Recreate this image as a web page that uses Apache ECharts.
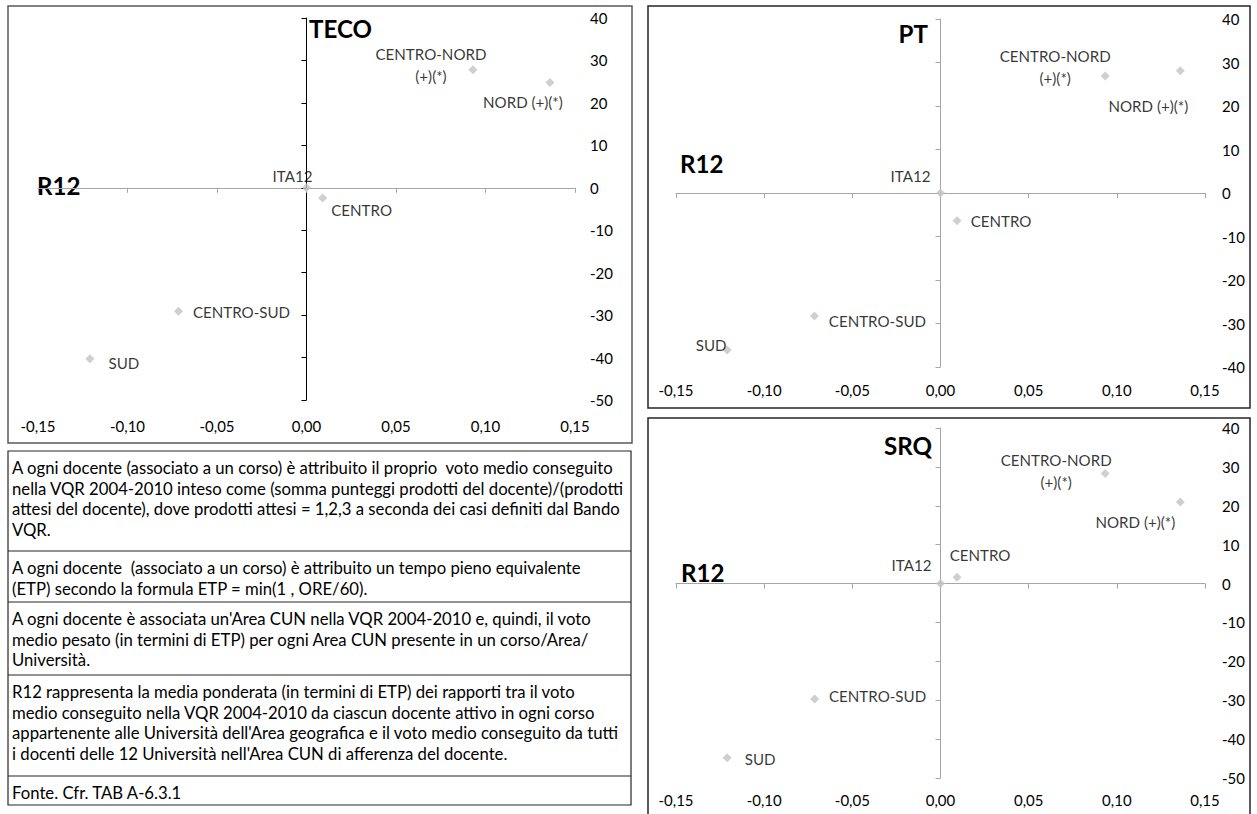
<!DOCTYPE html>
<html><head><meta charset="utf-8">
<script src="https://cdn.jsdelivr.net/npm/echarts@6/dist/echarts.min.js"></script>
<style>html,body{margin:0;padding:0;background:#fff;} #c{width:1257px;height:814px;}</style>
</head><body><div id="c"></div>
<script>
// ---------------- data ----------------
const areas = ['ITA12', 'CENTRO', 'CENTRO-NORD', 'NORD', 'CENTRO-SUD', 'SUD'];
const pointLabels = ['ITA12', 'CENTRO', 'CENTRO-NORD\n(+)(*)', 'NORD (+)(*)', 'CENTRO-SUD', 'SUD'];
const r12Teco = [0, 0.009, 0.093, 0.136, -0.0715, -0.121];
const tecoValues = [0, -2.4, 27.8, 24.8, -29.1, -40.3];
const r12Pt = [0, 0.0094, 0.0934, 0.136, -0.0715, -0.121];
const ptValues = [0, -6.4, 26.9, 28.1, -28.3, -36.1];
const r12Srq = [0, 0.0094, 0.0934, 0.136, -0.0714, -0.121];
const srqValues = [0, 1.6, 28.3, 21.0, -29.7, -44.8];
const xScale = { min: -0.15, max: 0.15, interval: 0.05 };
const yScaleTeco = { min: -50, max: 40, interval: 10 };
const yScalePt = { min: -40, max: 40, interval: 10 };
const yScaleSrq = { min: -50, max: 40, interval: 10 };
const panelTitles = ['TECO', 'PT', 'SRQ'];
const xTitle = 'R12';
const noteRows = [
  ['A ogni docente (associato a un corso) è attribuito il proprio  voto medio conseguito',
   'nella VQR 2004-2010 inteso come (somma punteggi prodotti del docente)/(prodotti',
   'attesi del docente), dove prodotti attesi = 1,2,3 a seconda dei casi definiti dal Bando',
   'VQR.'],
  ['A ogni docente  (associato a un corso) è attribuito un tempo pieno equivalente',
   '(ETP) secondo la formula ETP = min(1 , ORE/60).'],
  ['A ogni docente è associata un\'Area CUN nella VQR 2004-2010 e, quindi, il voto',
   'medio pesato (in termini di ETP) per ogni Area CUN presente in un corso/Area/',
   'Università.'],
  ['R12 rappresenta la media ponderata (in termini di ETP) dei rapporti tra il voto',
   'medio conseguito nella VQR 2004-2010 da ciascun docente attivo in ogni corso',
   'appartenente alle Università dell\'Area geografica e il voto medio conseguito da tutti',
   'i docenti delle 12 Università nell\'Area CUN di afferenza del docente.'],
  ['Fonte. Cfr. TAB A-6.3.1']
];

// ---------------- fonts ----------------
const FAM = 'Lato';
const ctx = document.createElement('canvas').getContext('2d');
function tw(text, size, weight) { ctx.font = (weight || 'normal') + ' ' + size + 'px ' + FAM; return ctx.measureText(text).width; }
function fit(text, target, weight) { return +(14 * target / tw(text, 14, weight)).toFixed(2); }
const bodySize = fit(noteRows[0][1], 612);
const tickSize = fit('-0,15', 35);
const ptLabelSize = fit('CENTRO-NORD', 111);
const titleSize = fit('TECO', 63, 'bold');

// ---------------- layout / style ----------------
const panels = [
  { x: r12Teco, y: tecoValues, yScale: yScaleTeco,
    grid: { left: 38, top: 18, width: 537, height: 382 },
    box: [8, 6, 624, 437], boxColor: '#595959', yLineColor: '#000000',
    xMargin: 18, yMargin: 15,
    title: { x: 309, y: 28, align: 'left' }, r12: { x: 37, y: 185 },
    offsets: [[-14, -12], [39, 12], [-42, -5], [-27, 19], [63, 1], [34, 4]] },
  { x: r12Pt, y: ptValues, yScale: yScalePt,
    grid: { left: 676, top: 19, width: 529, height: 348 },
    box: [648, 6, 602, 402], boxColor: '#262626', yLineColor: '#a6a6a6',
    xMargin: 15, yMargin: 17,
    title: { x: 928, y: 33, align: 'right' }, r12: { x: 680, y: 163 },
    offsets: [[-30, -17], [44, 0], [-50, -9], [-32, 35], [63, 5], [-16, -5]] },
  { x: r12Srq, y: srqValues, yScale: yScaleSrq,
    grid: { left: 676, top: 428, width: 529, height: 350 },
    box: [648, 418, 602, 410], boxColor: '#262626', yLineColor: '#a6a6a6',
    xMargin: 14, yMargin: 17,
    title: { x: 932, y: 445, align: 'right' }, r12: { x: 681, y: 572 },
    offsets: [[-29, -19], [23, -22], [-49, -3], [-45, 20], [63, -3], [33, 1]] }
];
const noteBox = { x: 8, top: 451, right: 631, bottom: 805, seps: [551, 602, 675, 776], pad: 4, first: 17, lh: 20.7 };

const fmtX = v => (Math.abs(v) < 1e-9 ? 0 : v).toFixed(2).replace('.', ',');

const grids = [], xAxes = [], yAxes = [], series = [], graphic = [];
panels.forEach((p, i) => {
  grids.push(Object.assign({ containLabel: false }, p.grid));
  // x label axis (bottom)
  xAxes.push(Object.assign({ type: 'value', gridIndex: i, position: 'bottom',
    axisLine: { show: false, onZero: false }, axisTick: { show: false }, splitLine: { show: false },
    axisLabel: { formatter: fmtX, margin: p.xMargin, fontFamily: FAM, fontSize: tickSize, color: '#000' } }, xScale));
  // x line axis (at y = 0)
  xAxes.push(Object.assign({ type: 'value', gridIndex: i, position: 'bottom',
    axisLine: { show: true, onZero: true, lineStyle: { color: '#a6a6a6', width: 1 } },
    axisTick: { show: true, length: 5, lineStyle: { color: '#a6a6a6' } },
    axisLabel: { show: false }, splitLine: { show: false } }, xScale));
  // y label axis (right)
  yAxes.push(Object.assign({ type: 'value', gridIndex: i, position: 'right',
    axisLine: { show: false, onZero: false }, axisTick: { show: false }, splitLine: { show: false },
    axisLabel: { margin: p.yMargin, fontFamily: FAM, fontSize: tickSize, color: '#000' } }, p.yScale));
  // y line axis (at x = 0)
  yAxes.push(Object.assign({ type: 'value', gridIndex: i, position: 'left',
    axisLine: { show: true, onZero: true, lineStyle: { color: p.yLineColor, width: 1 } },
    axisTick: { show: true, length: 5, lineStyle: { color: p.yLineColor } },
    axisLabel: { show: false }, splitLine: { show: false } }, p.yScale));

  series.push({
    type: 'scatter', xAxisIndex: 2 * i, yAxisIndex: 2 * i,
    symbol: 'diamond', symbolSize: [9, 9],
    itemStyle: { color: '#c3c3c3' },
    label: { show: true, position: 'inside', align: 'center', verticalAlign: 'middle',
      fontFamily: FAM, fontSize: ptLabelSize, color: '#000', lineHeight: 22,
      formatter: prm => pointLabels[prm.dataIndex] },
    emphasis: { disabled: true },
    data: areas.map((a, k) => ({ name: a, value: [p.x[k], p.y[k]], label: { offset: p.offsets[k] } }))
  });

  graphic.push({ type: 'rect', silent: true, shape: { x: p.box[0], y: p.box[1], width: p.box[2], height: p.box[3] },
    style: { fill: 'none', stroke: p.boxColor, lineWidth: 1.5 } });
  graphic.push({ type: 'text', silent: true, x: p.title.x, y: p.title.y,
    style: { text: panelTitles[i], font: 'bold ' + titleSize + 'px ' + FAM, fill: '#000', align: p.title.align, verticalAlign: 'middle' } });
  graphic.push({ type: 'text', silent: true, x: p.r12.x, y: p.r12.y,
    style: { text: xTitle, font: 'bold ' + titleSize + 'px ' + FAM, fill: '#000', align: 'left', verticalAlign: 'middle' } });
});

// note box
graphic.push({ type: 'rect', silent: true,
  shape: { x: noteBox.x, y: noteBox.top, width: noteBox.right - noteBox.x, height: noteBox.bottom - noteBox.top },
  style: { fill: 'none', stroke: '#262626', lineWidth: 1.2 } });
noteBox.seps.forEach(s => graphic.push({ type: 'line', silent: true,
  shape: { x1: noteBox.x, y1: s, x2: noteBox.right, y2: s }, style: { stroke: '#262626', lineWidth: 1.2 } }));
const rowTops = [noteBox.top].concat(noteBox.seps);
noteRows.forEach((row, r) => row.forEach((line, k) => graphic.push({ type: 'text', silent: true,
  x: noteBox.x + noteBox.pad, y: rowTops[r] + noteBox.first + k * noteBox.lh,
  style: { text: line, font: bodySize + 'px ' + FAM, fill: '#000', align: 'left', verticalAlign: 'middle' } })));

const chart = echarts.init(document.getElementById('c'), null, { renderer: 'svg' });
chart.setOption({
  animation: false,
  backgroundColor: '#fff',
  grid: grids, xAxis: xAxes, yAxis: yAxes, series: series, graphic: graphic
});
</script>
</body></html>
